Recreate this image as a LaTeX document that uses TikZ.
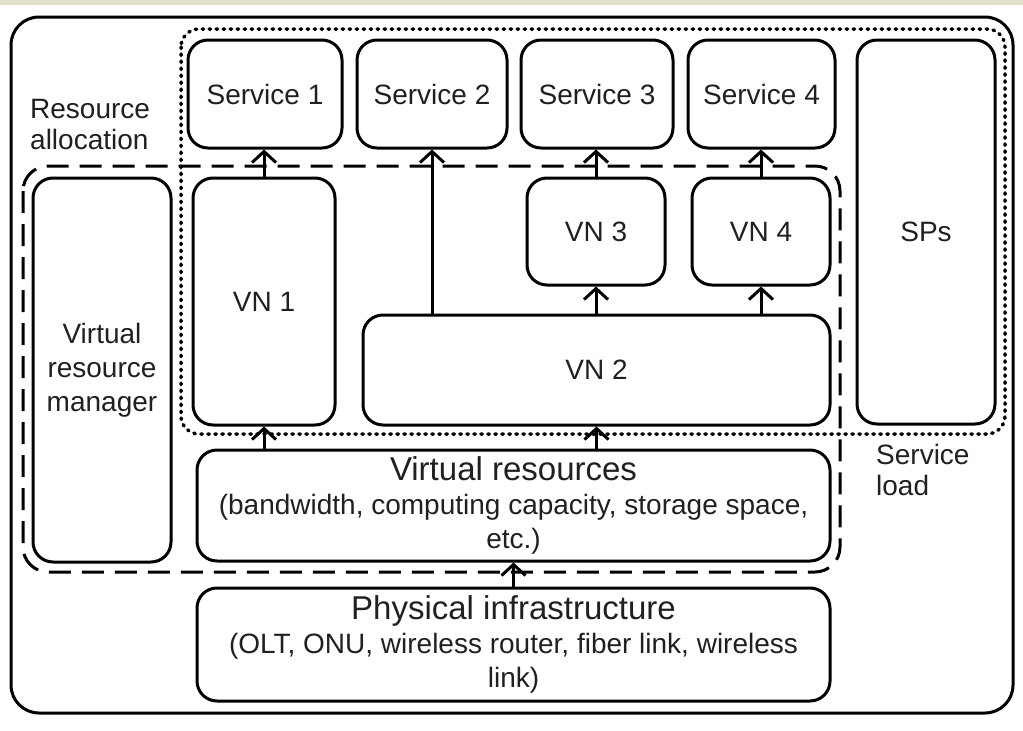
\documentclass[tikz,border=0pt]{standalone}
\usepackage{fontspec}
\setmainfont{Liberation Sans}
\usetikzlibrary{arrows.meta}
\definecolor{ink}{RGB}{35,31,32}
\definecolor{strip}{RGB}{226,223,206}
\begin{document}
\begin{tikzpicture}[x=1pt,y=-1pt,
  box/.style={draw=black, line width=3pt, rounded corners=20pt, text=ink, align=center, inner sep=0pt},
  txt/.style={font=\fontsize{28}{34}\selectfont},
  lbl/.style={text=ink, align=left, font=\fontsize{28}{31}\selectfont, inner sep=0pt},
  arr/.style={line width=3pt, -{Straight Barb[length=11pt,width=24pt,line width=3pt]}},
  frame/.style={line width=3pt},
  dotframe/.style={line width=3.5pt, line cap=round, dash pattern=on 1.5pt off 5.5pt},
  dashframe/.style={line width=3pt, dash pattern=on 22pt off 11pt}]
\useasboundingbox (0,0) rectangle (1023,731);
\fill[white] (0,0) rectangle (1023,731);
\fill[strip] (0,0) rectangle (1023,5);
% frames
\draw[frame, rounded corners=28pt] (11,17) rectangle (1013,713);
\draw[dotframe, rounded corners=18pt] (181,29) rectangle (1005,434);
\draw[dashframe, rounded corners=25pt] (23,166) rectangle (840,572);
% services
\node[box, txt, minimum width=154pt, minimum height=108pt] (S1) at (265,94) {Service 1};
\node[box, txt, minimum width=150pt, minimum height=108pt] (S2) at (432,94) {Service 2};
\node[box, txt, minimum width=152pt, minimum height=108pt] (S3) at (597,94) {Service 3};
\node[box, txt, minimum width=147pt, minimum height=108pt] (S4) at (761.5,94) {Service 4};
\node[box, txt, minimum width=138pt, minimum height=384pt] (SP) at (926,232) {SPs};
\node[box, txt, minimum width=138pt, minimum height=384pt] (VRM) at (102,370) {Virtual\\resource\\manager};
\node[box, txt, minimum width=142pt, minimum height=247pt] (VN1) at (264,301.5) {VN 1};
\node[box, txt, minimum width=138pt, minimum height=107pt] (VN3) at (596,231.5) {VN 3};
\node[box, txt, minimum width=138pt, minimum height=107pt] (VN4) at (761,231.5) {VN 4};
\node[box, txt, minimum width=467pt, minimum height=110pt] (VN2) at (596.5,370) {VN 2};
\node[box, txt, minimum width=633pt, minimum height=111pt] (VR) at (513.5,505.5)
  {{\fontsize{33}{34}\selectfont Virtual resources}\\
   (bandwidth, computing capacity, storage space,\\
   etc.)};
\node[box, txt, minimum width=633pt, minimum height=113pt] (PI) at (513.5,644.5)
  {{\fontsize{33}{34}\selectfont Physical infrastructure}\\
   (OLT, ONU, wireless router, fiber link, wireless\\
   link)};
% labels
\node[lbl, anchor=west] (RA) at (30,125) {Resource\\allocation};
\node[lbl, anchor=west] (SL) at (876,470) {Service\\load};
% arrows
\draw[arr] (VN1.north) -- (VN1.north |- S1.south);
\draw[arr] (VN2.north -| S2.south) -- (S2.south);
\draw[arr] (VN3.north) -- (VN3.north |- S3.south);
\draw[arr] (VN4.north) -- (VN4.north |- S4.south);
\draw[arr] (VN3.south |- VN2.north) -- (VN3.south);
\draw[arr] (VN4.south |- VN2.north) -- (VN4.south);
\draw[arr] (VN1.south |- VR.north) -- (VN1.south);
\draw[arr] (VN2.south |- VR.north) -- (VN2.south);
\draw[arr] (PI.north) -- (VR.south);
\end{tikzpicture}
\end{document}
